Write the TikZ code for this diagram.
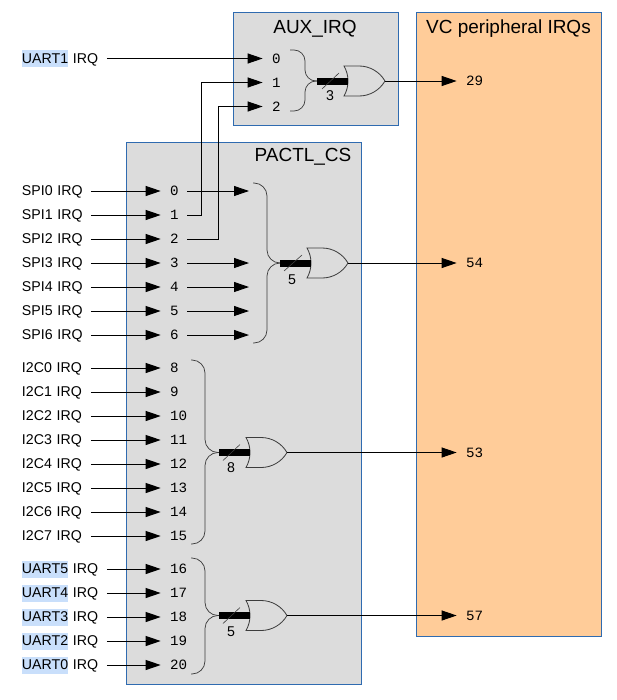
\documentclass[tikz,border=0pt]{standalone}
\usepackage{xcolor}
\usepackage{fontspec}
\setmainfont{Liberation Sans}
\setmonofont{Liberation Mono}
\usepackage{tikz}
\usetikzlibrary{arrows.meta, positioning, shapes.gates.logic.US}
\definecolor{myblue}{RGB}{47,107,176}
\definecolor{mygrey}{RGB}{220,220,220}
\definecolor{myorange}{RGB}{255,204,153}
\definecolor{myhl}{RGB}{201,223,251}
\definecolor{mydark}{RGB}{60,60,60}
\setlength{\fboxsep}{0pt}
\newcommand{\irqstrut}{\rule[-3.07pt]{0pt}{14.5pt}}
\newcommand{\hluart}[1]{\colorbox{myhl}{\irqstrut #1}}
\tikzset{
  panel/.style={rectangle, draw=myblue, line width=0.7pt, anchor=north west, inner sep=0pt},
  title/.style={font=\fontsize{16.2}{19}\selectfont, inner sep=0pt},
  irqlabel/.style={font=\fontsize{12.1}{14.5}\selectfont, align=left, inner sep=0pt, outer sep=0pt,
    minimum height=0.72cm, text width=2.07cm, execute at begin node=\irqstrut},
  uartlabel/.style={irqlabel, text width=2.55cm},
  irqpin/.style={font=\fontsize{12.1}{14.5}\ttfamily, align=left, inner sep=0pt, outer sep=0pt,
    minimum height=0.72cm, text width=0.51cm},
  arrow/.style={-{Triangle[length=0.45cm, width=0.3cm]}, line width=0.8pt, color=black},
  inarrow/.style={arrow, shorten >=0.28cm},
  line/.style={line width=0.8pt, color=black},
  bracket/.style={rounded corners=0.39cm, line width=0.6pt, color=mydark},
  bus/.style={line width=0.21cm, color=black},
  slash/.style={line width=0.5pt, color=mydark},
  buswidth/.style={font=\fontsize{12.1}{14.5}\selectfont, inner sep=0pt},
  orgate/.style={or gate US, draw=mydark, logic gate inputs=nn, fill=mygrey, line width=0.7pt,
    minimum height=0.84cm, minimum width=1.23cm, inner sep=0pt}
}
\begin{document}
\begin{tikzpicture}[x=0.03cm, y=-0.03cm]
  \useasboundingbox (0,0) rectangle (617,700);

  % Panels
  \node[panel, fill=mygrey, minimum width=4.97cm, minimum height=3.39cm] (auxbox) at (232.5,12.3) {};
  \node[panel, fill=mygrey, minimum width=7.06cm, minimum height=16.26cm] (pactlbox) at (126,142) {};
  \node[panel, fill=myorange, minimum width=5.54cm, minimum height=18.71cm] (vcbox) at (416,12.3) {};
  \node[title] (auxtitle) at (315,29) {AUX\_IRQ};
  \node[title] (pactltitle) at (303,157) {PACTL\_CS};
  \node[title] (vctitle) at (508.5,29) {VC peripheral IRQs};

  % AUX pins
  \node[irqpin, anchor=west] (aux0) at (272,58.5) {0};
  \node[irqpin, below=0cm of aux0] (aux1) {1};
  \node[irqpin, below=0cm of aux1] (aux2) {2};
  \node[uartlabel, left=4.95cm of aux0] (uart1) {\hluart{UART1} IRQ};
  \draw[inarrow] (uart1) -- (aux0);

  % SPI pins
  \node[irqpin, anchor=west] (pin0) at (170,191) {0};
  \node[irqpin, below=0cm of pin0] (pin1) {1};
  \node[irqpin, below=0cm of pin1] (pin2) {2};
  \node[irqpin, below=0cm of pin2] (pin3) {3};
  \node[irqpin, below=0cm of pin3] (pin4) {4};
  \node[irqpin, below=0cm of pin4] (pin5) {5};
  \node[irqpin, below=0cm of pin5] (pin6) {6};
  \node[irqlabel, left=2.37cm of pin0] (spi0) {SPI0 IRQ};
  \node[irqlabel, left=2.37cm of pin1] (spi1) {SPI1 IRQ};
  \node[irqlabel, left=2.37cm of pin2] (spi2) {SPI2 IRQ};
  \node[irqlabel, left=2.37cm of pin3] (spi3) {SPI3 IRQ};
  \node[irqlabel, left=2.37cm of pin4] (spi4) {SPI4 IRQ};
  \node[irqlabel, left=2.37cm of pin5] (spi5) {SPI5 IRQ};
  \node[irqlabel, left=2.37cm of pin6] (spi6) {SPI6 IRQ};
  \draw[inarrow] (spi0) -- (pin0);
  \draw[inarrow] (spi1) -- (pin1);
  \draw[inarrow] (spi2) -- (pin2);
  \draw[inarrow] (spi3) -- (pin3);
  \draw[inarrow] (spi4) -- (pin4);
  \draw[inarrow] (spi5) -- (pin5);
  \draw[inarrow] (spi6) -- (pin6);

  % I2C pins
  \node[irqpin, anchor=west] (pin8) at (170,368) {8};
  \node[irqpin, below=0cm of pin8] (pin9) {9};
  \node[irqpin, below=0cm of pin9] (pin10) {10};
  \node[irqpin, below=0cm of pin10] (pin11) {11};
  \node[irqpin, below=0cm of pin11] (pin12) {12};
  \node[irqpin, below=0cm of pin12] (pin13) {13};
  \node[irqpin, below=0cm of pin13] (pin14) {14};
  \node[irqpin, below=0cm of pin14] (pin15) {15};
  \node[irqlabel, left=2.37cm of pin8] (i2c0) {I2C0 IRQ};
  \node[irqlabel, left=2.37cm of pin9] (i2c1) {I2C1 IRQ};
  \node[irqlabel, left=2.37cm of pin10] (i2c2) {I2C2 IRQ};
  \node[irqlabel, left=2.37cm of pin11] (i2c3) {I2C3 IRQ};
  \node[irqlabel, left=2.37cm of pin12] (i2c4) {I2C4 IRQ};
  \node[irqlabel, left=2.37cm of pin13] (i2c5) {I2C5 IRQ};
  \node[irqlabel, left=2.37cm of pin14] (i2c6) {I2C6 IRQ};
  \node[irqlabel, left=2.37cm of pin15] (i2c7) {I2C7 IRQ};
  \draw[inarrow] (i2c0) -- (pin8);
  \draw[inarrow] (i2c1) -- (pin9);
  \draw[inarrow] (i2c2) -- (pin10);
  \draw[inarrow] (i2c3) -- (pin11);
  \draw[inarrow] (i2c4) -- (pin12);
  \draw[inarrow] (i2c5) -- (pin13);
  \draw[inarrow] (i2c6) -- (pin14);
  \draw[inarrow] (i2c7) -- (pin15);

  % UART pins
  \node[irqpin, anchor=west] (pin16) at (170,569) {16};
  \node[irqpin, below=0cm of pin16] (pin17) {17};
  \node[irqpin, below=0cm of pin17] (pin18) {18};
  \node[irqpin, below=0cm of pin18] (pin19) {19};
  \node[irqpin, below=0cm of pin19] (pin20) {20};
  \node[uartlabel, left=1.89cm of pin16] (uart5) {\hluart{UART5} IRQ};
  \node[uartlabel, left=1.89cm of pin17] (uart4) {\hluart{UART4} IRQ};
  \node[uartlabel, left=1.89cm of pin18] (uart3) {\hluart{UART3} IRQ};
  \node[uartlabel, left=1.89cm of pin19] (uart2) {\hluart{UART2} IRQ};
  \node[uartlabel, left=1.89cm of pin20] (uart0) {\hluart{UART0} IRQ};
  \draw[inarrow] (uart5) -- (pin16);
  \draw[inarrow] (uart4) -- (pin17);
  \draw[inarrow] (uart3) -- (pin18);
  \draw[inarrow] (uart2) -- (pin19);
  \draw[inarrow] (uart0) -- (pin20);

  % Wires up to AUX_IRQ
  \draw[inarrow] (pin1.east) -- ++(14.5,0) |- (aux1);
  \draw[inarrow] (pin2.east) -- ++(31.5,0) |- (aux2);

  % Wires into the SPI bracket
  \coordinate (spistub) at (249,263);
  \draw[arrow] (pin0.east) -- (pin0 -| spistub);
  \draw[arrow] (pin3.east) -- (pin3 -| spistub);
  \draw[arrow] (pin4.east) -- (pin4 -| spistub);
  \draw[arrow] (pin5.east) -- (pin5 -| spistub);
  \draw[arrow] (pin6.east) -- (pin6 -| spistub);

  % Brackets
  \coordinate (auxtip) at (317,81);
  \coordinate (spitip) at (280,263);
  \coordinate (i2ctip) at (219,452.5);
  \coordinate (uarttip) at (219,615.5);
  \draw[bracket, rounded corners=0.33cm] (290,50) -- ++(15,0) |- (auxtip);
  \draw[bracket, rounded corners=0.33cm] (290,111) -- ++(15,0) |- (auxtip);
  \draw[bracket] (253,183) -- ++(14,0) |- (spitip);
  \draw[bracket] (253,343) -- ++(14,0) |- (spitip);
  \draw[bracket] (191,360) -- ++(14,0) |- (i2ctip);
  \draw[bracket] (191,544) -- ++(14,0) |- (i2ctip);
  \draw[bracket] (191,558) -- ++(14,0) |- (uarttip);
  \draw[bracket] (191,674) -- ++(14,0) |- (uarttip);

  % OR gates
  \node[orgate] (auxgate) at (361.5,81) {};
  \node[orgate] (spigate) at (324.5,263) {};
  \node[orgate] (i2cgate) at (263.5,452.5) {};
  \node[orgate] (uartgate) at (263.5,615.5) {};

  % Buses
  \draw[bus] (auxtip) -- (auxgate.west);
  \draw[bus] (spitip) -- (spigate.west);
  \draw[bus] (i2ctip) -- (i2cgate.west);
  \draw[bus] (uarttip) -- (uartgate.west);
  \draw[slash] ([shift={(5,8)}]auxtip) -- ([shift={(22,-8)}]auxtip);
  \draw[slash] ([shift={(4,8)}]spitip) -- ([shift={(22,-8)}]spitip);
  \draw[slash] ([shift={(4,8)}]i2ctip) -- ([shift={(21,-8)}]i2ctip);
  \draw[slash] ([shift={(4,8)}]uarttip) -- ([shift={(21,-8)}]uarttip);
  \node[buswidth] (auxwidth) at ([shift={(13,15)}]auxtip) {3};
  \node[buswidth] (spiwidth) at ([shift={(12,17)}]spitip) {5};
  \node[buswidth] (i2cwidth) at ([shift={(12,15)}]i2ctip) {8};
  \node[buswidth] (uartwidth) at ([shift={(12,16)}]uarttip) {5};

  % VC inputs
  \node[irqpin, anchor=west] (vc29) at (466,81) {29};
  \node[irqpin, anchor=west] (vc54) at (466,263) {54};
  \node[irqpin, anchor=west] (vc53) at (466,452.5) {53};
  \node[irqpin, anchor=west] (vc57) at (466,615.5) {57};
  \draw[inarrow] (auxgate.east) -- (vc29);
  \draw[inarrow] (spigate.east) -- (vc54);
  \draw[inarrow] (i2cgate.east) -- (vc53);
  \draw[inarrow] (uartgate.east) -- (vc57);
\end{tikzpicture}
\end{document}
